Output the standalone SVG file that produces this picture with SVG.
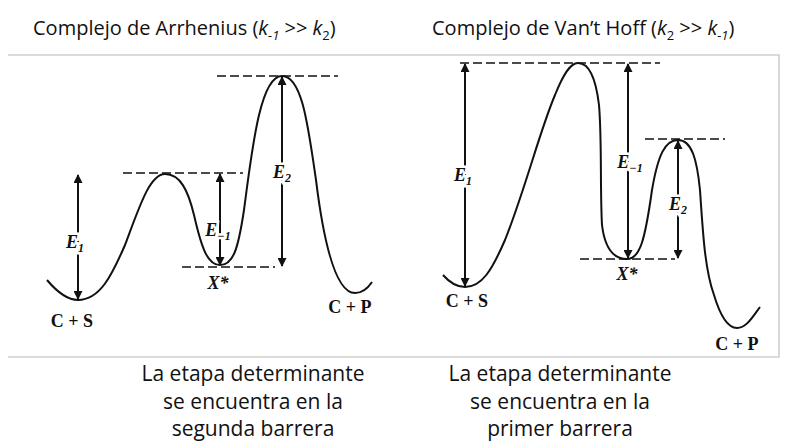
<svg xmlns="http://www.w3.org/2000/svg" width="786" height="442" viewBox="0 0 786 442">
<style>
.head{font-family:"Open Sans","Liberation Sans",sans-serif;font-size:20px;fill:#111}
.cap{font-family:"Open Sans","Liberation Sans",sans-serif;font-size:21px;fill:#111;text-anchor:middle}
.curve{fill:none;stroke:#111;stroke-width:2}
.dash{stroke:#111;stroke-width:1.6;stroke-dasharray:9 4}
.arr{stroke:#111;stroke-width:2;marker-start:url(#ah);marker-end:url(#ah)}
.lbl{font-family:"Liberation Serif",serif;font-style:italic;font-weight:bold;font-size:18px;fill:#111;text-anchor:middle;stroke:#fff;stroke-width:5;paint-order:stroke}
.st{font-family:"Liberation Serif",serif;font-weight:bold;font-size:18px;fill:#111;text-anchor:middle}
.frame{stroke:#cfcfcf;stroke-width:1.6;fill:none}
</style>
<defs>
<marker id="ah" viewBox="0 0 10 10" refX="9" refY="5" markerWidth="5" markerHeight="4.5" orient="auto-start-reverse" markerUnits="strokeWidth">
<path d="M0,0 L10,5 L0,10 z" fill="#111"/>
</marker>
</defs>
<rect width="786" height="442" fill="#fff"/>
<g id="titles">
<text class="head" x="33" y="35">Complejo de Arrhenius (<tspan font-style="italic">k</tspan><tspan font-style="italic" font-size="13" dy="5">-1</tspan><tspan dy="-5"> &gt;&gt; </tspan><tspan font-style="italic">k</tspan><tspan font-size="13" dy="5">2</tspan><tspan dy="-5">)</tspan></text>
<text class="head" x="432" y="35">Complejo de Van’t Hoff (<tspan font-style="italic">k</tspan><tspan font-size="13" dy="5">2</tspan><tspan dy="-5"> &gt;&gt; </tspan><tspan font-style="italic">k</tspan><tspan font-style="italic" font-size="13" dy="5">-1</tspan><tspan dy="-5">)</tspan></text>
</g>
<g id="frame">
<path class="frame" d="M8,55 H779 V357 H8"/>
</g>
<g id="left-diagram">
<path class="curve" d="M47,280 C58,293 68,300 78,300 C100,300 112,275 125,245 C140,205 150,174 165,174 C180,174 188,190 194,215 C202,250 208,265 220,265 C233,265 238,250 244,210 C252,150 260,76 282,76 C302,76 308,125 316,180 C324,245 336,293 355,293 C362,293 368,288 372,282"/>
<line class="dash" x1="217" y1="76" x2="338" y2="76"/>
<line class="dash" x1="123" y1="173" x2="243" y2="173"/>
<line class="dash" x1="182" y1="267" x2="275" y2="267"/>
<line class="arr" x1="78" y1="175" x2="78" y2="299"/>
<line class="arr" x1="220" y1="174" x2="220" y2="265"/>
<line class="arr" x1="282" y1="77" x2="282" y2="266"/>
<text class="lbl" x="75" y="248">E<tspan font-size="12" dy="4">1</tspan></text>
<text class="lbl" x="218" y="236">E<tspan font-size="12" dy="4">−1</tspan></text>
<text class="lbl" x="282" y="178">E<tspan font-size="12" dy="4">2</tspan></text>
<text class="lbl" x="218" y="289" stroke="none">X*</text>
<text class="st" x="72" y="327">C + S</text>
<text class="st" x="350" y="313">C + P</text>
</g>
<g id="right-diagram">
<path class="curve" d="M443,275 C450,283 457,287 465,287 C482,287 492,270 505,240 C525,190 540,130 555,95 C563,75 570,63 578,63 C590,63 596,80 599,105 C602,140 600,190 602,225 C605,250 614,259 627,259 C640,259 645,240 652,190 C658,155 665,140 678,140 C692,140 697,160 700,190 C703,235 705,270 714,295 C720,315 728,328 737,328 C746,328 752,318 760,307"/>
<line class="dash" x1="460" y1="63" x2="660" y2="63"/>
<line class="dash" x1="645" y1="139" x2="725" y2="139"/>
<line class="dash" x1="580" y1="259" x2="675" y2="259"/>
<line class="arr" x1="465" y1="64" x2="465" y2="286"/>
<line class="arr" x1="628" y1="64" x2="628" y2="258"/>
<line class="arr" x1="678" y1="141" x2="678" y2="258"/>
<text class="lbl" x="463" y="181">E<tspan font-size="12" dy="4">1</tspan></text>
<text class="lbl" x="630" y="168">E<tspan font-size="12" dy="4">−1</tspan></text>
<text class="lbl" x="678" y="210">E<tspan font-size="12" dy="4">2</tspan></text>
<text class="lbl" x="627" y="280" stroke="none">X*</text>
<text class="st" x="467" y="307">C + S</text>
<text class="st" x="737" y="350">C + P</text>
</g>
<g id="captions">
<text class="cap" x="253" y="381">La etapa determinante</text>
<text class="cap" x="253" y="409">se encuentra en la</text>
<text class="cap" x="253" y="436">segunda barrera</text>
<text class="cap" x="560" y="381">La etapa determinante</text>
<text class="cap" x="560" y="409">se encuentra en la</text>
<text class="cap" x="560" y="436">primer barrera</text>
</g>
</svg>
